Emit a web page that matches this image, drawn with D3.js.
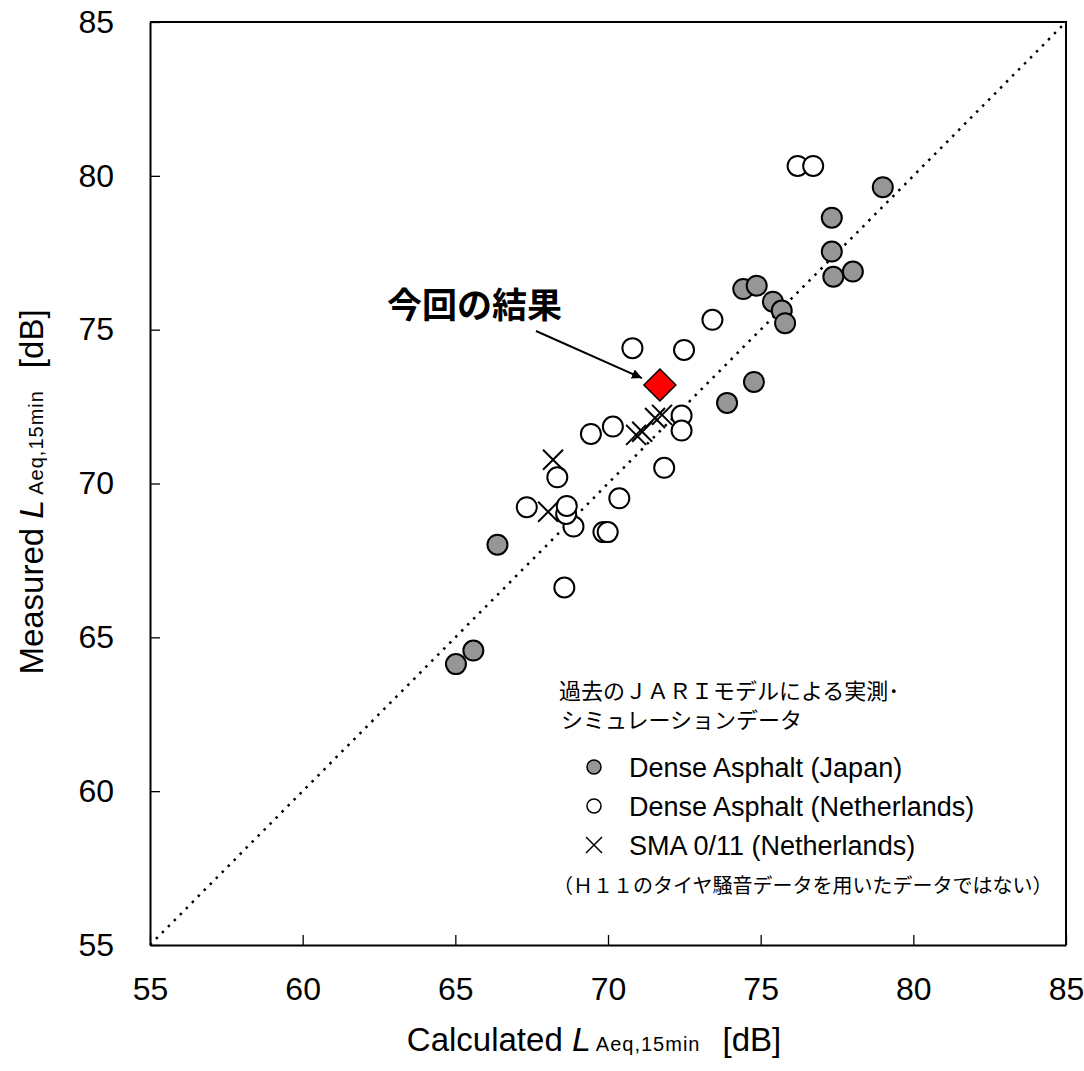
<!DOCTYPE html>
<html>
<head>
<meta charset="utf-8">
<script src="https://cdn.jsdelivr.net/npm/d3@7"></script>
<style>
  body { margin: 0; background: #fff; }
  text { font-family: "Liberation Sans", Arial, sans-serif; }
  .jp { font-family: "Noto Sans CJK JP", sans-serif; }
</style>
</head>
<body>
<script>
let width = 1084
let height = 1071
let margin = { top: 22, right: 18, bottom: 126, left: 150 }

// Dense Asphalt (Japan)  [calculated, measured]
let japan = [
  [65.02, 64.13], [65.59, 64.57], [66.38, 68.01],
  [73.90, 72.62], [74.78, 73.30],
  [74.43, 76.32], [74.87, 76.43], [75.40, 75.91], [75.69, 75.62], [75.80, 75.21],
  [77.33, 78.64], [77.33, 77.54], [77.38, 76.72], [78.02, 76.89], [79.00, 79.63]
]
// Dense Asphalt (Netherlands)
let netherlands = [
  [68.57, 66.62], [69.85, 68.42], [69.99, 68.42], [68.87, 68.60], [68.63, 69.01],
  [68.65, 69.27], [67.34, 69.23], [70.37, 69.52], [68.34, 70.20], [71.84, 70.51],
  [69.44, 71.61], [70.16, 71.85], [72.41, 72.21], [72.41, 71.72],
  [70.80, 74.40], [72.49, 74.34], [73.42, 75.32], [76.21, 80.32], [76.72, 80.32]
]
// SMA 0/11 (Netherlands)
let sma = [
  [68.20, 70.77], [68.04, 69.08], [70.92, 71.58], [71.12, 71.68], [71.54, 72.13], [71.77, 72.23]
]
// this study
let result = [[71.70, 73.20]]

let ticks = [55, 60, 65, 70, 75, 80, 85]
let legendItems = ["Dense Asphalt (Japan)", "Dense Asphalt (Netherlands)", "SMA 0/11 (Netherlands)"]

let svg = d3.select("body").append("svg")
  .attr("width", width)
  .attr("height", height)

let x = d3.scaleLinear().domain([55, 85]).range([margin.left, width - margin.right])
let y = d3.scaleLinear().domain([55, 85]).range([height - margin.bottom, margin.top])

// axes with inward ticks
svg.append("g")
  .attr("transform", "translate(0," + y(55) + ")")
  .call(d3.axisBottom(x).tickValues(ticks).tickSizeInner(-10).tickSizeOuter(0).tickPadding(32))
  .call(g => g.select(".domain").attr("stroke-width", 2))
  .call(g => g.selectAll("line").attr("stroke-width", 1.3))
  .call(g => g.selectAll("text").attr("font-size", 32).attr("fill", "#000").attr("font-family", "Liberation Sans, Arial"))

svg.append("g")
  .attr("transform", "translate(" + x(55) + ",0)")
  .call(d3.axisLeft(y).tickValues(ticks).tickSizeInner(-10).tickSizeOuter(0).tickPadding(36))
  .call(g => g.select(".domain").attr("stroke-width", 2))
  .call(g => g.selectAll("line").attr("stroke-width", 1.3))
  .call(g => g.selectAll("text").attr("font-size", 32).attr("fill", "#000").attr("font-family", "Liberation Sans, Arial"))

// top & right border
svg.append("path")
  .attr("d", "M" + x(55) + "," + y(85) + "H" + x(85) + "V" + y(55))
  .attr("fill", "none").attr("stroke", "#000").attr("stroke-width", 2)

// 1:1 line
svg.append("line")
  .attr("x1", x(55)).attr("y1", y(55)).attr("x2", x(85)).attr("y2", y(85))
  .attr("stroke", "#000").attr("stroke-width", 2.5).attr("stroke-dasharray", "2.5,6")

// markers
svg.selectAll(".nl").data(netherlands).enter().append("circle")
  .attr("class", "nl")
  .attr("cx", d => x(d[0])).attr("cy", d => y(d[1])).attr("r", 10)
  .attr("fill", "#fff").attr("stroke", "#000").attr("stroke-width", 2)

svg.selectAll(".sma").data(sma).enter().append("path")
  .attr("class", "sma")
  .attr("d", d => {
    let cx = x(d[0]), cy = y(d[1]), s = 10
    return "M" + (cx - s) + "," + (cy - s) + "L" + (cx + s) + "," + (cy + s) +
      "M" + (cx - s) + "," + (cy + s) + "L" + (cx + s) + "," + (cy - s)
  })
  .attr("stroke", "#000").attr("stroke-width", 2).attr("fill", "none")

svg.selectAll(".jpn").data(japan).enter().append("circle")
  .attr("class", "jpn")
  .attr("cx", d => x(d[0])).attr("cy", d => y(d[1])).attr("r", 10)
  .attr("fill", "#969696").attr("stroke", "#000").attr("stroke-width", 2)

svg.selectAll(".res").data(result).enter().append("path")
  .attr("class", "res")
  .attr("d", d => {
    let cx = x(d[0]), cy = y(d[1]), s = 16
    return "M" + cx + "," + (cy - s) + "L" + (cx + s) + "," + cy + "L" + cx + "," + (cy + s) + "L" + (cx - s) + "," + cy + "Z"
  })
  .attr("fill", "#ff0000").attr("stroke", "#000").attr("stroke-width", 1.5)

// annotation
svg.append("defs").append("marker")
  .attr("id", "arrow").attr("viewBox", "0 0 10 10").attr("refX", 10).attr("refY", 5)
  .attr("markerWidth", 5).attr("markerHeight", 5).attr("orient", "auto")
  .append("path").attr("d", "M0,0L10,5L0,10Z").attr("fill", "#000")

svg.append("text").attr("class", "jp")
  .attr("x", 387).attr("y", 318)
  .attr("font-size", 35).attr("font-weight", "bold")
  .text("今回の結果")

svg.append("line")
  .attr("x1", 536).attr("y1", 331).attr("x2", x(result[0][0]) - 18).attr("y2", y(result[0][1]) - 7)
  .attr("stroke", "#000").attr("stroke-width", 2).attr("marker-end", "url(#arrow)")

// legend
svg.append("text").attr("class", "jp").attr("x", 559).attr("y", 699).attr("font-size", 22)
  .text("過去のＪＡＲＩモデルによる実測･")
svg.append("text").attr("class", "jp").attr("x", 561).attr("y", 728).attr("font-size", 22)
  .text("シミュレーションデータ")

let ly = [767, 806, 845]
legendItems.forEach((t, i) => {
  let cy = ly[i]
  if (i === 0) {
    svg.append("circle").attr("cx", 594).attr("cy", cy).attr("r", 7)
      .attr("fill", "#969696").attr("stroke", "#000").attr("stroke-width", 1.5)
  } else if (i === 1) {
    svg.append("circle").attr("cx", 594).attr("cy", cy).attr("r", 7)
      .attr("fill", "#fff").attr("stroke", "#000").attr("stroke-width", 1.5)
  } else {
    svg.append("path")
      .attr("d", "M586," + (cy - 8) + "L602," + (cy + 8) + "M586," + (cy + 8) + "L602," + (cy - 8))
      .attr("stroke", "#000").attr("stroke-width", 1.5)
  }
  svg.append("text").attr("x", 629).attr("y", cy + 10).attr("font-size", 27).text(t)
})

svg.append("text").attr("class", "jp").attr("x", 553).attr("y", 893).attr("font-size", 20)
  .text("（Ｈ１１のタイヤ騒音データを用いたデータではない）")

// axis titles
let xt = svg.append("text").attr("x", 594).attr("y", 1051).attr("text-anchor", "middle").attr("font-size", 33)
xt.append("tspan").text("Calculated ")
xt.append("tspan").attr("font-style", "italic").attr("font-size", 34).text("L")
xt.append("tspan").attr("font-size", 20).attr("letter-spacing", 1).attr("dx", 5).text("Aeq,15min")
xt.append("tspan").attr("dx", 22).text("[dB]")

let yt = svg.append("text").attr("transform", "translate(43,492) rotate(-90)").attr("text-anchor", "middle").attr("font-size", 33)
yt.append("tspan").text("Measured ")
yt.append("tspan").attr("font-style", "italic").attr("font-size", 34).text("L")
yt.append("tspan").attr("font-size", 20).attr("letter-spacing", 1).attr("dx", 5).text("Aeq,15min")
yt.append("tspan").attr("dx", 22).text("[dB]")
</script>
</body>
</html>
